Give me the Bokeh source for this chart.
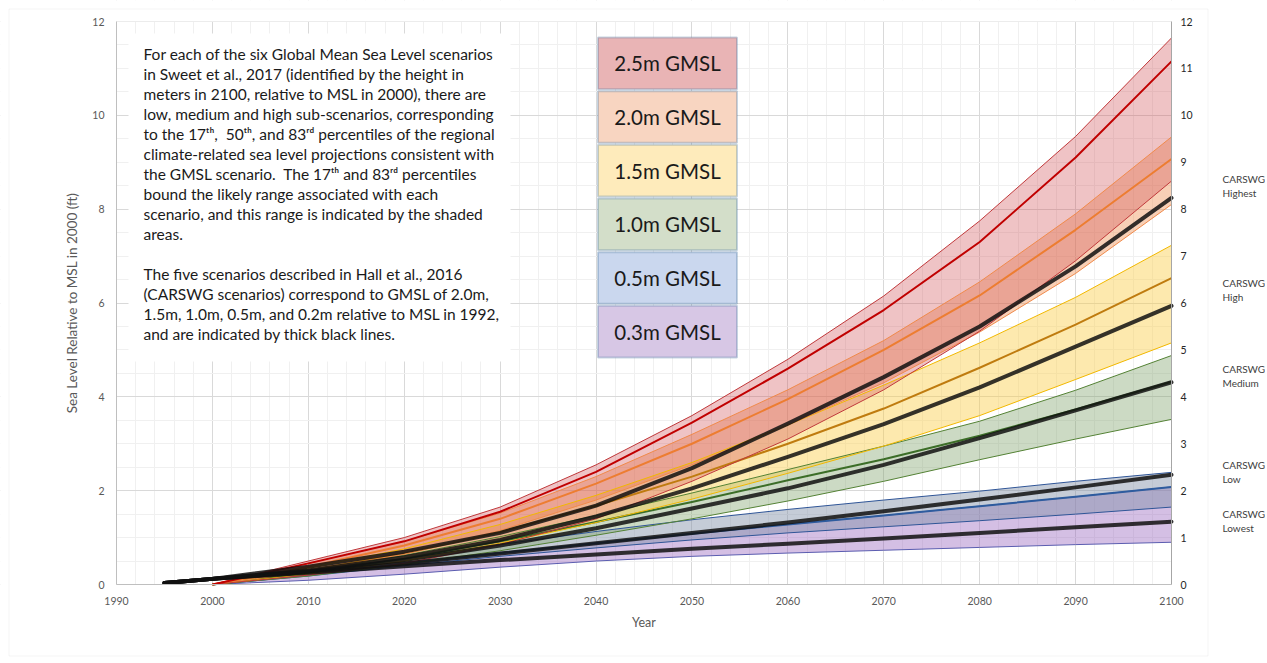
from bokeh.plotting import figure
from bokeh.models import Range1d, LinearAxis, SingleIntervalTicker, Label, BoxAnnotation
from bokeh.embed import file_html
from bokeh.resources import INLINE

# ---------------- data ----------------
years = [2000, 2010, 2020, 2030, 2040, 2050, 2060, 2070, 2080, 2090, 2100]
carswg_years = [1995, 2000, 2010, 2020, 2030, 2040, 2050, 2060, 2070, 2080, 2090, 2100]

# Sweet et al. 2017 scenarios: 17th (lo), 50th (med), 83rd (hi) percentiles, ft
gmsl_25_hi = [0, 0.50, 1.00, 1.65, 2.55, 3.60, 4.80, 6.15, 7.75, 9.55, 11.65]
gmsl_25_med = [0, 0.45, 0.92, 1.55, 2.40, 3.45, 4.60, 5.85, 7.30, 9.10, 11.15]
gmsl_25_lo = [0, 0.20, 0.45, 0.85, 1.40, 2.20, 3.10, 4.15, 5.40, 6.90, 8.60]

gmsl_20_hi = [0, 0.45, 0.92, 1.52, 2.30, 3.20, 4.15, 5.20, 6.45, 7.90, 9.54]
gmsl_20_med = [0, 0.38, 0.83, 1.40, 2.15, 3.00, 3.95, 5.00, 6.16, 7.56, 9.07]
gmsl_20_lo = [0, 0.28, 0.65, 1.15, 1.80, 2.55, 3.40, 4.30, 5.38, 6.63, 8.10]

gmsl_15_hi = [0, 0.35, 0.76, 1.28, 1.90, 2.60, 3.40, 4.25, 5.15, 6.12, 7.23]
gmsl_15_med = [0, 0.30, 0.66, 1.12, 1.68, 2.30, 3.00, 3.75, 4.62, 5.54, 6.53]
gmsl_15_lo = [0, 0.22, 0.50, 0.88, 1.32, 1.82, 2.37, 2.95, 3.60, 4.37, 5.15]

gmsl_10_hi = [0, 0.28, 0.62, 1.02, 1.47, 1.95, 2.45, 2.95, 3.48, 4.14, 4.88]
gmsl_10_med = [0, 0.25, 0.55, 0.92, 1.33, 1.76, 2.22, 2.67, 3.17, 3.73, 4.32]
gmsl_10_lo = [0, 0.18, 0.43, 0.72, 1.05, 1.40, 1.78, 2.20, 2.66, 3.10, 3.52]

gmsl_05_hi = [0, 0.25, 0.55, 0.85, 1.13, 1.38, 1.60, 1.80, 1.99, 2.20, 2.39]
gmsl_05_med = [0, 0.21, 0.45, 0.67, 0.88, 1.08, 1.28, 1.47, 1.67, 1.87, 2.08]
gmsl_05_lo = [0, 0.18, 0.40, 0.60, 0.78, 0.95, 1.10, 1.23, 1.36, 1.50, 1.65]

gmsl_03_hi = [0, 0.21, 0.45, 0.67, 0.88, 1.08, 1.28, 1.47, 1.67, 1.87, 2.08]
gmsl_03_med = [0, 0.15, 0.32, 0.48, 0.62, 0.75, 0.86, 0.97, 1.08, 1.18, 1.28]
gmsl_03_lo = [0, 0.09, 0.22, 0.37, 0.50, 0.60, 0.67, 0.73, 0.79, 0.85, 0.90]

# Hall et al. 2016 (CARSWG) scenarios, ft
carswg_highest = [0.03, 0.12, 0.38, 0.70, 1.10, 1.68, 2.48, 3.43, 4.42, 5.50, 6.78, 8.24]
carswg_high = [0.03, 0.12, 0.30, 0.58, 0.95, 1.45, 2.05, 2.72, 3.42, 4.20, 5.07, 5.94]
carswg_medium = [0.03, 0.12, 0.28, 0.52, 0.83, 1.20, 1.62, 2.05, 2.55, 3.12, 3.71, 4.31]
carswg_low = [0.03, 0.12, 0.27, 0.45, 0.66, 0.88, 1.10, 1.32, 1.56, 1.81, 2.07, 2.34]
carswg_lowest = [0.03, 0.12, 0.25, 0.39, 0.52, 0.64, 0.76, 0.87, 0.98, 1.10, 1.22, 1.34]

legend_labels = ["2.5m GMSL", "2.0m GMSL", "1.5m GMSL", "1.0m GMSL", "0.5m GMSL", "0.3m GMSL"]
carswg_labels = ["Highest", "High", "Medium", "Low", "Lowest"]
x_ticks_interval = 10
y_left_interval = 2
y_right_interval = 1

NB = "\u00a0"
text_block_1 = [
    "For each of the six Global Mean Sea Level scenarios",
    "in Sweet et al., 2017 (identified by the height in",
    "meters in 2100, relative to MSL in 2000), there are",
    "low, medium and high sub-scenarios, corresponding",
    "to the 17\u1d57\u02b0," + NB + " 50\u1d57\u02b0, and 83\u02b3\u1d48 percentiles of the regional",
    "climate-related sea level projections consistent with",
    "the GMSL scenario." + NB + " The 17\u1d57\u02b0 and 83\u02b3\u1d48 percentiles",
    "bound the likely range associated with each",
    "scenario, and this range is indicated by the shaded",
    "areas.",
]
text_block_2 = [
    "The five scenarios described in Hall et al., 2016",
    "(CARSWG scenarios) correspond to GMSL of 2.0m,",
    "1.5m, 1.0m, 0.5m, and 0.2m relative to MSL in 1992,",
    "and are indicated by thick black lines.",
]

# ---------------- layout geometry (page pixels) ----------------
X0, X1, Y0, Y1 = 1990, 2100, 0, 12
FL, FR, FT, FB = 116, 1171, 21, 584      # where the data area sits on the page
W, H = 1265, 660


def px_x(px):
    return X0 + (px - FL) * (X1 - X0) / (FR - FL)


def px_y(py):
    return Y0 + (FB - py) * (Y1 - Y0) / (FB - FT)


FONT = "Lato"

# the frame fills the whole canvas; axes are pinned at the data edges
p = figure(width=W, height=H, output_backend="svg", toolbar_location=None,
           x_range=Range1d(px_x(0), px_x(W)), y_range=Range1d(px_y(H), px_y(0)),
           min_border=0, min_border_left=0, min_border_right=0,
           min_border_top=0, min_border_bottom=0)
p.outline_line_color = None
p.background_fill_color = "white"
p.border_fill_color = "white"

xt = SingleIntervalTicker(interval=x_ticks_interval, num_minor_ticks=5)
yt = SingleIntervalTicker(interval=y_left_interval, num_minor_ticks=4)
p.xaxis.ticker = xt
p.yaxis.ticker = yt
p.xgrid.ticker = xt
p.ygrid.ticker = yt
for g in (p.xgrid, p.ygrid):
    g.grid_line_color = "#D9D9D9"
    g.minor_grid_line_color = "#F0F0F0"

p.xaxis.fixed_location = Y0
p.xaxis.bounds = (X0, X1)
p.yaxis.fixed_location = X0
p.yaxis.bounds = (Y0, Y1)

for ax in (p.xaxis, p.yaxis):
    ax.axis_line_color = "#BFBFBF"
    ax.major_tick_line_color = None
    ax.minor_tick_line_color = None
    ax.major_tick_out = 0
    ax.major_tick_in = 0
    ax.minor_tick_out = 0
    ax.minor_tick_in = 0
    ax.major_label_text_font = FONT
    ax.major_label_text_font_size = "10.5px"
    ax.major_label_text_color = "#595959"
    ax.axis_label_text_font = FONT
    ax.axis_label_text_color = "#595959"
    ax.axis_label_text_font_style = "normal"

p.xaxis.axis_label = "Year"
p.xaxis.axis_label_text_font_size = "12.5px"
p.xaxis.major_label_standoff = 12
p.xaxis.axis_label_standoff = 7
p.yaxis.axis_label = "Sea Level Relative to MSL in 2000 (ft)"
p.yaxis.axis_label_text_font_size = "13.5px"
p.yaxis.major_label_standoff = 12
p.yaxis.axis_label_standoff = 9

p.extra_y_ranges = {"right": Range1d(px_y(H), px_y(0))}
ra = LinearAxis(y_range_name="right", ticker=SingleIntervalTicker(interval=y_right_interval),
                fixed_location=X1, bounds=(Y0, Y1))
ra.axis_line_color = "#A6A6A6"
ra.major_tick_line_color = None
ra.minor_tick_line_color = None
ra.major_tick_out = 0
ra.major_tick_in = 0
ra.minor_tick_out = 0
ra.minor_tick_in = 0
ra.major_label_text_font = FONT
ra.major_label_text_font_size = "10.5px"
ra.major_label_text_color = "#262626"
ra.major_label_standoff = 9
p.add_layout(ra, "right")

# white masks so the grid only covers the data area
for kw in (dict(right=X0), dict(left=X1), dict(bottom=Y1), dict(top=Y0)):
    p.add_layout(BoxAnnotation(fill_color="white", fill_alpha=1, line_color=None,
                               level="underlay", **kw))

# ---------------- bands ----------------
bands = [
    (gmsl_03_lo, gmsl_03_med, gmsl_03_hi, "#935FBB", 0.40, "#5B5DB0", None),
    (gmsl_05_lo, gmsl_05_med, gmsl_05_hi, "#7F8FA6", 0.45, "#2F5597", "#2E5C9E"),
    (gmsl_10_lo, gmsl_10_med, gmsl_10_hi, "#7FA26B", 0.40, "#548235", "#3C6E28"),
    (gmsl_15_lo, gmsl_15_med, gmsl_15_hi, "#FBCF4B", 0.45, "#F2B800", "#BF7B0F"),
    (gmsl_20_lo, gmsl_20_med, gmsl_20_hi, "#ED8948", 0.40, "#F08A4B", "#ED7D31"),
    (gmsl_25_lo, gmsl_25_med, gmsl_25_hi, "#D0535A", 0.35, "#C0393B", "#C00000"),
]
for lo, med, hi, fc, fa, ec, mc in bands:
    p.varea(x=years, y1=lo, y2=hi, fill_color=fc, fill_alpha=fa)
for lo, med, hi, fc, fa, ec, mc in bands:
    p.line(years, lo, line_color=ec, line_width=1, line_join="round")
    p.line(years, hi, line_color=ec, line_width=1, line_join="round")
    if mc is not None:
        p.line(years, med, line_color=mc, line_width=2, line_join="round")

for series in (carswg_lowest, carswg_low, carswg_medium, carswg_high, carswg_highest):
    p.line(carswg_years, series, line_color="#111111", line_width=4, line_alpha=0.85,
           line_join="round", line_cap="round")

# ---------------- chart area border ----------------
p.add_layout(BoxAnnotation(left=px_x(8.5), right=px_x(1207.5), top=px_y(8.5), bottom=px_y(655.5),
                           fill_alpha=0, line_color="#D9D9D9", line_width=1))

# ---------------- explanatory text box ----------------
p.add_layout(BoxAnnotation(left=px_x(128), right=px_x(510), top=px_y(33), bottom=px_y(361),
                           fill_color="white", fill_alpha=1, line_color=None))
for i, t in enumerate(text_block_1):
    p.add_layout(Label(x=px_x(143), y=px_y(53.3 + 20 * i), text=t, text_font=FONT,
                       text_font_size="15.5px", text_color="#1A1A1A", text_baseline="middle"))
for i, t in enumerate(text_block_2):
    p.add_layout(Label(x=px_x(143), y=px_y(273.3 + 20 * i), text=t, text_font=FONT,
                       text_font_size="15.5px", text_color="#1A1A1A", text_baseline="middle"))

# ---------------- legend boxes ----------------
legend_fills = ["#E9B4B5", "#F8D5C1", "#FEEBBB", "#D3DEC9", "#CAD7EE", "#D7C7E5"]
top_px, bot_px = 36, 358
step = (bot_px - top_px) / len(legend_labels)
for i, (lab, fc) in enumerate(zip(legend_labels, legend_fills)):
    t = top_px + i * step
    b = t + step
    p.add_layout(BoxAnnotation(left=px_x(597.5), right=px_x(736.5), top=px_y(t + 1), bottom=px_y(b - 1),
                               fill_color=fc, fill_alpha=1, line_color="#41719C", line_width=2))
    p.add_layout(Label(x=px_x(667), y=px_y((t + b) / 2), text=lab, text_font=FONT,
                       text_font_size="20.5px", text_color="#1A1A1A",
                       text_align="center", text_baseline="middle"))

# ---------------- CARSWG labels at right ----------------
carswg_label_py = [178, 282, 368, 464, 513]
for lab, py in zip(carswg_labels, carswg_label_py):
    p.add_layout(Label(x=px_x(1222), y=px_y(py), text="CARSWG", text_font=FONT,
                       text_font_size="10px", text_color="#404040", text_baseline="middle"))
    p.add_layout(Label(x=px_x(1222), y=px_y(py + 14), text=lab, text_font=FONT,
                       text_font_size="10px", text_color="#404040", text_baseline="middle"))

open("out.html", "w").write(file_html(p, INLINE))
